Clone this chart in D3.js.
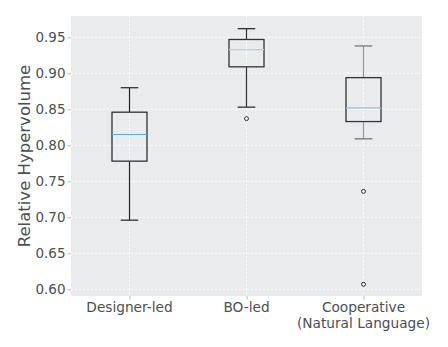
<!DOCTYPE html>
<html><head><meta charset="utf-8">
<script src="https://cdn.jsdelivr.net/npm/d3@7"></script>
<style>body{margin:0;background:#fff;} text{font-family:"DejaVu Sans",sans-serif;}</style>
</head><body>
<svg id="c" width="448" height="347"></svg>
<script>
const categories = ["Designer-led", "BO-led", "Cooperative\n(Natural Language)"];
const whiskerLow = [0.696, 0.853, 0.809];
const q1 = [0.778, 0.909, 0.833];
const median = [0.815, 0.933, 0.852];
const q3 = [0.846, 0.947, 0.894];
const whiskerHigh = [0.880, 0.962, 0.938];
const outliers = [[], [0.837], [0.736, 0.607]];
const yTicks = [0.60, 0.65, 0.70, 0.75, 0.80, 0.85, 0.90, 0.95];
const medianColors = ["#5dade2", "#a9d6ea", "#8ec5e6"];
const whiskerColors = ["#222", "#333", "#999"];

const svg = d3.select("#c");
const L = 71, R = 422, T = 16, B = 296;
const x = d3.scaleLinear().domain([0.5, 3.5]).range([L, R]);
const y = d3.scaleLinear().domain([0.5907, 0.9796]).range([B, T]);
const textColor = "#4a4f52";

svg.append("rect").attr("x", L).attr("y", T).attr("width", R - L).attr("height", B - T).attr("fill", "#e9ebec");

// grid
svg.append("g").selectAll("line").data(yTicks).join("line")
  .attr("x1", L).attr("x2", R).attr("y1", d => y(d)).attr("y2", d => y(d))
  .attr("stroke", "#fff").attr("stroke-width", 0.8).attr("stroke-dasharray", "2.5,1.5");
svg.append("g").selectAll("line").data(categories).join("line")
  .attr("x1", (d, i) => x(i + 1)).attr("x2", (d, i) => x(i + 1)).attr("y1", T).attr("y2", B)
  .attr("stroke", "#fff").attr("stroke-width", 0.8).attr("stroke-dasharray", "2.5,1.5");

// axes
const yAxis = d3.axisLeft(y).tickValues(yTicks).tickFormat(d3.format(".2f")).tickSize(3.5).tickPadding(2);
const gy = svg.append("g").attr("transform", `translate(${L},0)`).call(yAxis);
gy.select(".domain").remove();
gy.selectAll(".tick line").attr("stroke", "#bbb");
gy.selectAll(".tick text").attr("fill", textColor).attr("font-size", 13.5).attr("font-family", "DejaVu Sans");

const xAxis = d3.axisBottom(x).tickValues([1, 2, 3]).tickFormat("").tickSize(3.5);
const gx = svg.append("g").attr("transform", `translate(0,${B})`).call(xAxis);
gx.select(".domain").remove();
gx.selectAll(".tick line").attr("stroke", "#bbb");

categories.forEach((c, i) => {
  const lines = c.split("\n");
  const t = svg.append("text").attr("x", x(i + 1)).attr("y", 312).attr("text-anchor", "middle")
    .attr("fill", textColor).attr("font-size", 13.7);
  lines.forEach((ln, j) => t.append("tspan").attr("x", x(i + 1)).attr("dy", j === 0 ? 0 : 16).text(ln));
});

svg.append("text").attr("transform", `translate(30,${(T + B) / 2}) rotate(-90)`)
  .attr("text-anchor", "middle").attr("fill", textColor).attr("font-size", 16.5).text("Relative Hypervolume");

// boxes
const bw = 35, cw = 17.6;
const g = svg.append("g");
categories.forEach((c, i) => {
  const cx = x(i + 1);
  const wc = whiskerColors[i];
  g.append("line").attr("x1", cx).attr("x2", cx).attr("y1", y(q3[i])).attr("y2", y(whiskerHigh[i])).attr("stroke", wc).attr("stroke-width", 1.2);
  g.append("line").attr("x1", cx).attr("x2", cx).attr("y1", y(q1[i])).attr("y2", y(whiskerLow[i])).attr("stroke", wc).attr("stroke-width", 1.2);
  [whiskerHigh[i], whiskerLow[i]].forEach(v => g.append("line").attr("x1", cx - cw / 2).attr("x2", cx + cw / 2)
    .attr("y1", y(v)).attr("y2", y(v)).attr("stroke", i === 2 ? "#777" : "#333").attr("stroke-width", 1.3));
  g.append("rect").attr("x", cx - bw / 2).attr("y", y(q3[i])).attr("width", bw).attr("height", y(q1[i]) - y(q3[i]))
    .attr("fill", "none").attr("stroke", "#333").attr("stroke-width", 1.3);
  g.append("line").attr("x1", cx - bw / 2).attr("x2", cx + bw / 2).attr("y1", y(median[i])).attr("y2", y(median[i]))
    .attr("stroke", medianColors[i]).attr("stroke-width", 1.2);
  outliers[i].forEach(v => g.append("circle").attr("cx", cx).attr("cy", y(v)).attr("r", 2)
    .attr("fill", "none").attr("stroke", "#333").attr("stroke-width", 1));
});
</script>
</body></html>
